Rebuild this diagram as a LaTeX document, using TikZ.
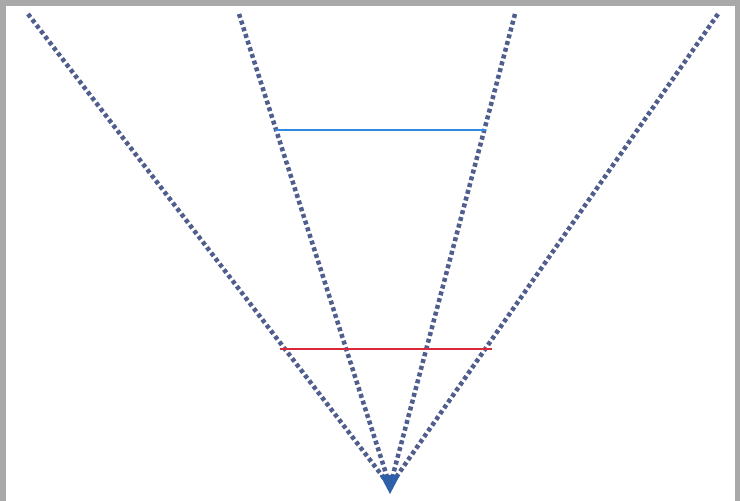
\documentclass[tikz,border=0pt]{standalone}
\usetikzlibrary{arrows.meta}
\definecolor{frame}{HTML}{A9A9A9}
\definecolor{ray}{HTML}{505E8E}
\definecolor{tipc}{HTML}{2F5FA8}
\definecolor{blueline}{HTML}{2E8BE0}
\definecolor{redline}{HTML}{D8283A}
\tikzset{
  rayline/.style={ray, line width=4.5pt, dash pattern=on 4pt off 3pt},
  levelline/.style={line width=2.6pt},
}
\begin{document}
\begin{tikzpicture}[x=1pt,y=-1pt]
\useasboundingbox (0,0) rectangle (740,501);
\fill[frame] (0,0) rectangle (740,501);
\fill[white] (6,6) rectangle (735,501);
\coordinate (apex) at (390,486);
\coordinate (t1) at (28,14);
\coordinate (t2) at (239,14);
\coordinate (t3) at (515,14);
\coordinate (t4) at (718,14);
\draw[rayline] (t1) -- (apex);
\draw[rayline] (t2) -- (apex);
\draw[rayline] (t3) -- (apex);
\draw[rayline] (t4) -- (apex);
\fill[tipc] (380,475) -- (400,475) -- (390,494) -- cycle;
\coordinate (b1) at (275,130);
\coordinate (b2) at (486,130);
\coordinate (r1) at (280,349);
\coordinate (r2) at (492,349);
\draw[levelline, blueline] (b1) -- (b2);
\draw[levelline, redline] (r1) -- (r2);
\end{tikzpicture}
\end{document}
